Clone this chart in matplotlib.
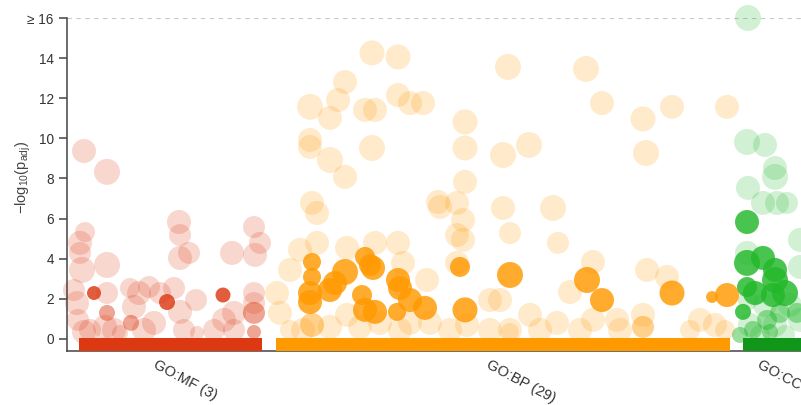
import numpy as np
import matplotlib
matplotlib.use("Agg")
import matplotlib.pyplot as plt
from matplotlib.patches import Rectangle

plt.rcParams['font.family'] = ['Liberation Sans', 'DejaVu Sans']

# ---- data: term position, -log10(p_adj), term size, status (0 = other, 1 = highlighted, 2 = intermediate)
mf_pos = [27, 100, 156, 64, 187, 40, 187,
          17, 40, 18, 13, 13, 15, 40, 112, 113, 113, 122, 165, 187, 193, 188,
          10, 40, 72, 82, 67, 93, 107, 113, 87, 77, 117, 130, 147, 157, 167, 167,
          187, 187, 23, 47, 53, 17, 38, 7, 11, 129, 63]
mf_logp = [2.29, 1.84, 2.19, 0.80, 1.30, 1.30, 0.35,
           9.37, 8.33, 5.33, 4.79, 4.29, 3.44, 3.69, 5.83, 5.18, 4.04, 4.29, 4.29, 5.58, 4.79, 4.19,
           1.79, 2.29, 2.29, 2.59, 1.60, 2.29, 2.54, 1.35, 0.80, 0.45, 0.45, 0.30, 0.45, 0.95, 1.30, 0.45,
           2.29, 1.79, 0.45, 0.45, 0.30, 0.35, 0.60, 2.44, 0.95, 1.94, 2.54]
mf_term_size = [20, 55, 33, 55, 1100, 55, 20,
                3000, 8000, 400, 3000, 1100, 8000, 8000, 3000, 1100, 3000, 1100, 3000, 1100, 1100, 3000,
                3000, 1100, 3000, 1100, 3000, 1100, 1100, 3000, 3000, 3000, 1100, 20, 1100, 3000, 3000, 1100,
                1100, 1100, 1100, 3000, 55, 3000, 3000, 1100, 1100, 1100, 400]
mf_status = [1, 1, 1, 2, 2, 2, 2] + [0] * 42

bp_pos = [245, 245, 243, 243, 263, 268, 278, 298, 303, 306, 295, 298, 308, 331, 333, 343, 330,
          358, 393, 398, 443, 520, 535, 605, 645, 660,
          576, 245,
          305, 331, 278, 243, 271, 263, 298, 308, 331, 343, 356, 243, 243, 305, 263, 278, 398, 398,
          398, 245, 371, 390, 441, 519, 535, 576, 605, 660, 436, 462, 579, 436, 486, 443, 491, 526,
          503, 463, 526, 576, 443, 580, 600, 550, 490, 250, 250, 280, 308, 331, 336, 360, 390, 396,
          373, 396, 390, 210, 213, 280, 263, 293, 313, 343, 363, 400, 423, 433, 443, 423, 236, 633,
          648, 623, 658, 553, 513, 473, 383, 333, 223, 233, 223]
bp_logp = [3.84, 3.09, 2.29, 1.84, 2.44, 2.79, 3.34, 4.09, 3.69, 3.54, 2.19, 1.45, 1.35, 2.94, 2.54,
           1.94, 1.35, 1.55, 3.59, 1.45, 3.19, 2.94, 1.94, 2.29, 2.09, 2.19,
           0.60, 0.70,
           14.26, 14.06, 12.81, 11.57, 11.91, 11.02, 11.42, 11.42, 12.16, 11.76, 11.76, 9.92, 9.57,
           9.52, 8.92, 8.08, 10.82, 9.52, 7.83, 6.78, 6.83, 6.78, 13.56, 13.46, 11.76, 10.97, 11.57,
           11.57, 9.17, 9.67, 9.27, 6.53, 6.53, 5.28, 4.79, 3.84, 2.34, 1.20, 0.95, 1.20, 0.35, 3.44,
           3.09, 0.95, 0.80, 6.28, 4.79, 4.54, 4.79, 4.79, 3.79, 2.94, 5.18, 5.93, 6.58, 4.94, 3.79,
           2.29, 1.30, 1.20, 0.60, 0.60, 0.80, 0.80, 0.80, 0.70, 1.94, 1.94, 0.45, 0.45, 0.45, 0.95,
           0.70, 0.45, 0.45, 0.45, 0.45, 0.45, 0.45, 0.45, 0.45, 4.44, 3.44]
bp_term_size = [150, 150, 3000, 3000, 3000, 3000, 8000, 400, 1100, 3000, 400, 3000, 3000, 3000, 3000,
                3000, 150, 3000, 400, 5000, 8000, 8000, 3000, 5000, 7, 3000,
                1100, 3000,
                5000, 5000, 3000, 8000, 3000, 3000, 3000, 3000, 3000, 3000, 3000, 3000, 3000, 8000,
                8000, 3000, 5000, 5000, 3000, 3000, 3000, 3000, 8000, 8000, 3000, 5000, 3000, 3000,
                8000, 8000, 8000, 3000, 8000, 1100, 1100, 3000, 3000, 3000, 3000, 3000, 150, 3000,
                3000, 3000, 3000, 3000, 3000, 3000, 3000, 3000, 3000, 3000, 3000, 3000, 3000, 3000,
                3000, 3000, 3000, 3000, 3000, 3000, 3000, 3000, 3000, 3000, 3000, 3000, 3000, 3000,
                3000, 3000, 3000, 400, 400, 3000, 3000, 3000, 3000, 3000, 400, 3000, 3000]
bp_status = [1] * 26 + [2, 2] + [0] * 83

cc_pos = [680, 680, 696, 708, 708, 680, 688, 706, 718, 676,
          713, 700, 686, 730, 673, 703,
          681, 680, 698, 708, 708, 681, 696, 710, 720, 733, 680, 733, 681, 698, 723, 683, 708,
          733, 693, 718]
cc_logp = [5.83, 3.79, 4.04, 3.44, 2.94, 2.59, 2.29, 2.19, 2.29, 1.35,
           1.30, 0.95, 0.45, 1.30, 0.20, 0.35,
           18.5, 9.82, 9.67, 8.52, 8.08, 7.53, 6.78, 6.78, 6.78, 4.94, 4.29, 3.59, 1.94, 1.69, 1.69,
           0.70, 0.70, 0.95, 0.20, 0.20]
cc_term_size = [3000, 8000, 3000, 3000, 8000, 400, 3000, 3000, 8000, 55,
                400, 400, 150, 400, 55, 55,
                8000, 8000, 3000, 3000, 8000, 3000, 3000, 3000, 1100, 3000, 3000, 3000, 400, 3000,
                3000, 3000, 3000, 3000, 400, 400]
cc_status = [1] * 10 + [2] * 6 + [0] * 20

sources = ["GO:MF", "GO:BP", "GO:CC"]
source_counts = [3, 29, 14]
source_spans = [(12, 195), (209, 663), (676, 739)]
point_colors = ["#dc3912", "#ff9900", "#22b82a"]
bar_colors = ["#dc3912", "#ff9900", "#109618"]

y_cap = 16
y_ticks = [0, 2, 4, 6, 8, 10, 12, 14, 16]
y_tick_labels = ["0", "2", "4", "6", "8", "10", "12", "14", "\u2265 16"]

# ---- figure
W, H = 801, 405
fig = plt.figure(figsize=(W / 100, H / 100), dpi=100)
ax = fig.add_axes([67 / W, 1 - 351 / H, (W - 67) / W, (351 - 18) / H])
ax.set_xlim(0, W - 67)
ax.set_ylim(-0.6, 16)


def radius_px(n):
    return 4 + 2.3 * np.log10(np.asarray(n, dtype=float))


alphas = {0: 0.2, 2: 0.45, 1: 0.82}
groups = [(mf_pos, mf_logp, mf_term_size, mf_status),
          (bp_pos, bp_logp, bp_term_size, bp_status),
          (cc_pos, cc_logp, cc_term_size, cc_status)]

for level in (0, 2, 1):
    for (pos, logp, tsize, status), col in zip(groups, point_colors):
        pos = np.asarray(pos, float)
        logp = np.minimum(np.asarray(logp, float), y_cap)
        st = np.asarray(status)
        m = st == level
        if not m.any():
            continue
        r = radius_px(np.asarray(tsize)[m])
        s = (2 * r * 0.72) ** 2
        ax.scatter(pos[m], logp[m], s=s, color=col, alpha=alphas[level],
                   linewidths=0, zorder=2 + level, clip_on=False)

# source bars along the bottom
for (x0, x1), col in zip(source_spans, bar_colors):
    ax.add_patch(Rectangle((x0, -0.6), x1 - x0, 0.63, facecolor=col, edgecolor='none',
                           zorder=6, clip_on=True))

# threshold line at the cap
ax.axhline(y_cap, color="#c8c8c8", lw=0.8, ls=(0, (4, 4)), zorder=1)

# source labels
for name, cnt, (x0, x1) in zip(sources, source_counts, source_spans):
    ax.annotate(f"{name} ({cnt})", xy=((x0 + x1) / 2, 0), xycoords=('data', 'axes fraction'),
                xytext=(-12.5, -7), textcoords='offset pixels', rotation=-28,
                rotation_mode='anchor', ha='left', va='top', fontsize=10.5, color="#333333",
                annotation_clip=False)

# axes styling
for side in ("top", "right"):
    ax.spines[side].set_visible(False)
for side in ("left", "bottom"):
    ax.spines[side].set_color("#444444")
    ax.spines[side].set_linewidth(1.1)
ax.set_xticks([])
ax.set_yticks(y_ticks)
ax.set_yticklabels(y_tick_labels)
ax.tick_params(axis='y', length=6, width=1.1, color="#444444", pad=3.5,
               labelsize=9.8, labelcolor="#333333")
ax.set_ylabel(r"$\mathregular{-log_{10}(p_{adj})}$", fontsize=10.5, color="#444444")
ax.yaxis.set_label_coords(-0.046, 0.52)

fig.savefig("out.png", dpi=100)
